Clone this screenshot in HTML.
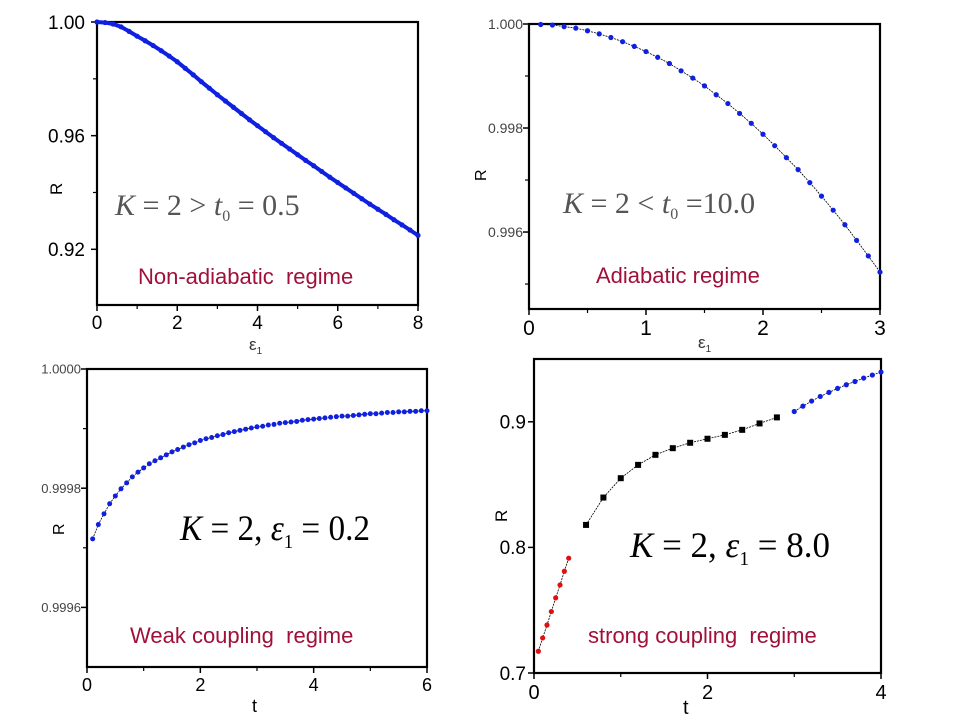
<!DOCTYPE html>
<html><head><meta charset="utf-8"><style>
html,body{margin:0;padding:0;background:#fff;}
svg{display:block;font-family:"Liberation Sans",Arial,sans-serif;}
.lbl{fill:#a0103a;font-size:22px;}
.math{font-family:"Liberation Serif","DejaVu Serif",serif;}
</style></head><body>
<svg id="c" width="960" height="720" viewBox="0 0 960 720" xmlns="http://www.w3.org/2000/svg"></svg>
<script>
// Panel 1 (non-adiabatic): eps1 = 0..8 step 0.2
const p1Step = 0.2;
const p1R = [1.0000,0.9998,0.9993,0.9983,0.9967,0.9950,0.9934,0.9917,0.9899,0.9880,0.9860,0.9837,0.9814,0.9790,0.9767,0.9744,0.9722,0.9700,0.9678,0.9656,0.9635,0.9614,0.9593,0.9573,0.9553,0.9533,0.9513,0.9494,0.9474,0.9454,0.9435,0.9416,0.9397,0.9378,0.9359,0.9341,0.9323,0.9304,0.9286,0.9268,0.9249];
const p1XTicks = ["0","2","4","6","8"];
const p1YTicks = ["0.92","0.96","1.00"];
// Panel 2 (adiabatic): eps1 = 0.1..3.0 step 0.1
const p2Step = 0.1;
const p2R = [0.99999,0.99998,0.99995,0.99992,0.99987,0.99981,0.99974,0.99966,0.99957,0.99947,0.99936,0.99924,0.9991,0.99896,0.99881,0.99864,0.99847,0.99828,0.99809,0.99788,0.99766,0.99743,0.9972,0.99695,0.99669,0.99642,0.99614,0.99584,0.99554,0.99523];
const p2XTicks = ["0","1","2","3"];
const p2YTicks = ["0.996","0.998","1.000"];
// Panel 3 (weak coupling): t = 0.1..6.0 step 0.1
const p3Step = 0.1;
const p3R = [0.999715,0.999739,0.999757,0.999774,0.999787,0.999799,0.999809,0.999819,0.999827,0.999834,0.999841,0.999846,0.999851,0.999856,0.999861,0.999865,0.999869,0.999873,0.999876,0.999880,0.999883,0.999885,0.999888,0.999890,0.999893,0.999895,0.999897,0.999899,0.999901,0.999903,0.999904,0.999906,0.999907,0.999909,0.999910,0.999911,0.999912,0.999914,0.999915,0.999916,0.999917,0.999918,0.999919,0.999920,0.999921,0.999921,0.999922,0.999923,0.999924,0.999925,0.999925,0.999926,0.999927,0.999927,0.999928,0.999928,0.999929,0.999929,0.999930,0.999930];
const p3XTicks = ["0","2","4","6"];
const p3YTicks = ["0.9996","0.9998","1.0000"];
// Panel 4 (strong coupling)
const p4RedT = [0.05,0.1,0.15,0.2,0.25,0.3,0.35,0.4];
const p4RedR = [0.7173,0.7279,0.7382,0.7489,0.7598,0.7701,0.7810,0.7914];
const p4BlackT = [0.6,0.8,1.0,1.2,1.4,1.6,1.8,2.0,2.2,2.4,2.6,2.8];
const p4BlackR = [0.8179,0.8397,0.8551,0.8657,0.8737,0.8790,0.8833,0.8865,0.8896,0.8936,0.8987,0.9035];
const p4BlueT = [3.0,3.1,3.2,3.3,3.4,3.5,3.6,3.7,3.8,3.9,4.0];
const p4BlueR = [0.9082,0.9125,0.9165,0.9202,0.9234,0.9266,0.9295,0.9321,0.9348,0.9372,0.9396];
const p4XTicks = ["0","2","4"];
const p4YTicks = ["0.7","0.8","0.9"];

const NS="http://www.w3.org/2000/svg";
const svg=document.getElementById('c');
function mk(tag,attrs,parent){const e=document.createElementNS(NS,tag);for(const k in attrs)e.setAttribute(k,attrs[k]);(parent||svg).appendChild(e);return e;}
function axes(name,L,R,T,B,x0,x1,y0,y1){
  const g=mk('g',{});
  
  
  return {g,L,R,T,B,sx:v=>L+(v-x0)/(x1-x0)*(R-L),sy:v=>B-(v-y0)/(y1-y0)*(B-T)};
}
function frame(a,xTicks,xMinor,yTicks,yMinor,fs,yfs,ycol,xlabDy,ylabDx){
  const f=mk('rect',{x:a.L,y:a.T,width:a.R-a.L,height:a.B-a.T,fill:'none',stroke:'#000','stroke-width':2.2},a.g);
  
  
  xTicks.forEach(t=>{const x=a.sx(parseFloat(t));
    mk('line',{x1:x,x2:x,y1:a.B,y2:a.B+6,stroke:'#000','stroke-width':1.5},a.g);
    const tx=mk('text',{x:x,y:a.B+xlabDy,'font-size':fs,'text-anchor':'middle'},a.g);tx.textContent=t;
    
    });
  xMinor.forEach(v=>{const x=a.sx(v);mk('line',{x1:x,x2:x,y1:a.B,y2:a.B+4,stroke:'#000','stroke-width':1.2},a.g);});
  yTicks.forEach(t=>{const y=a.sy(parseFloat(t));
    mk('line',{x1:a.L-6,x2:a.L,y1:y,y2:y,stroke:'#000','stroke-width':1.5},a.g);
    const tx=mk('text',{x:a.L-ylabDx,y:y+yfs*0.36,'font-size':yfs,'text-anchor':'end',fill:ycol},a.g);tx.textContent=t;
    
    });
  yMinor.forEach(v=>{const y=a.sy(v);mk('line',{x1:a.L-4,x2:a.L,y1:y,y2:y,stroke:'#000','stroke-width':1.2},a.g);});
}
function series(a,xs,ys,color,r,name,lineW,square){
  const pts=xs.map((x,i)=>a.sx(x)+','+a.sy(ys[i])).join(' ');
  const pl=mk('polyline',{points:pts,fill:'none',stroke:lineW>1.5?color:'#000','stroke-width':lineW,'stroke-dasharray':lineW>1.5?'':'2,1'},a.g);
  
  
  xs.forEach((x,i)=>{
    const m= square? mk('rect',{x:a.sx(x)-r,y:a.sy(ys[i])-r,width:2*r,height:2*r,fill:color},a.g)
                   : mk('circle',{cx:a.sx(x),cy:a.sy(ys[i]),r:r,fill:color},a.g);
    
    
  });
}
function text(x,y,s,attrs,name){const t=mk('text',Object.assign({x,y},attrs));t.innerHTML=s;
  
  return t;}

// Panel 1
const a1=axes('panel-non-adiabatic',97,418,22,305,0,8,0.9004,1.0);
frame(a1,p1XTicks,[1,3,5,7],p1YTicks,[0.94,0.98],19,19,'#000',24,12);
series(a1,p1R.map((_,i)=>i*p1Step),p1R,'#1020e0',2.6,'p1-series',4,false);
text(50,183,'R',{'font-size':17,transform:'rotate(-90 62 183)'},'p1-y-axis-title');
text(249,350,'ε<tspan font-size="10" dy="4">1</tspan>',{'font-size':17,fill:'#333'},'p1-x-axis-title');
text(115,215,'<tspan font-style="italic">K</tspan> = 2 &gt; <tspan font-style="italic">t</tspan><tspan font-size="16" dy="6">0</tspan><tspan dy="-6"> = 0.5</tspan>',{'font-size':30,fill:'#555',class:'math'},'p1-annotation');
text(138,284,'Non-adiabatic&#160;&#160;regime',{class:'lbl'},'p1-regime-label');

// Panel 2
const a2=axes('panel-adiabatic',529,880,24,309,0,3,0.99452,1.0);
frame(a2,p2XTicks,[0.5,1.5,2.5],p2YTicks,[0.995,0.997,0.999],21,14,'#444',26,6);
series(a2,p2R.map((_,i)=>(i+1)*p2Step),p2R,'#1020e0',2.6,'p2-series',0.8,false);
text(480,175,'R',{'font-size':16,transform:'rotate(-90 486 175)'},'p2-y-axis-title');
text(698,348,'ε<tspan font-size="10" dy="4">1</tspan>',{'font-size':17,fill:'#333'},'p2-x-axis-title');
text(563,213,'<tspan font-style="italic">K</tspan> = 2 &lt; <tspan font-style="italic">t</tspan><tspan font-size="16" dy="6">0</tspan><tspan dy="-6"> =10.0</tspan>',{'font-size':30,fill:'#555',class:'math'},'p2-annotation');
text(596,283,'Adiabatic regime',{class:'lbl'},'p2-regime-label');

// Panel 3
const a3=axes('panel-weak-coupling',87,427,369,667,0,6,0.99950,1.0);
frame(a3,p3XTicks,[1,3,5],p3YTicks,[0.9997,0.9999],18,13,'#444',24,6);
series(a3,p3R.map((_,i)=>(i+1)*p3Step),p3R,'#1020e0',2.5,'p3-series',0.8,false);
text(52,523,'R',{'font-size':16,transform:'rotate(-90 64 523)'},'p3-y-axis-title');
text(252,712,'t',{'font-size':18},'p3-x-axis-title');
text(180,540,'<tspan font-style="italic">K</tspan> = 2, <tspan font-style="italic">ε</tspan><tspan font-size="20" dy="8">1</tspan><tspan dy="-8"> = 0.2</tspan>',{'font-size':36,fill:'#000',class:'math',textLength:190,lengthAdjust:'spacingAndGlyphs'},'p3-annotation');
text(130,643,'Weak coupling&#160;&#160;regime',{class:'lbl'},'p3-regime-label');

// Panel 4
const a4=axes('panel-strong-coupling',534,881,359,673,0,4,0.7,0.950);
frame(a4,p4XTicks,[1,3],p4YTicks,[],20,19,'#000',26,8);
series(a4,p4RedT,p4RedR,'#e01010',2.6,'p4-red-series',0.8,false);
series(a4,p4BlackT,p4BlackR,'#000',3,'p4-black-series',0.8,true);
series(a4,p4BlueT,p4BlueR,'#1020e0',2.6,'p4-blue-series',0.8,false);
text(495,510,'R',{'font-size':17,transform:'rotate(-90 507 510)'},'p4-y-axis-title');
text(683,714,'t',{'font-size':20},'p4-x-axis-title');
text(630,557,'<tspan font-style="italic">K</tspan> = 2, <tspan font-style="italic">ε</tspan><tspan font-size="20" dy="8">1</tspan><tspan dy="-8"> = 8.0</tspan>',{'font-size':36,fill:'#000',class:'math',textLength:200,lengthAdjust:'spacingAndGlyphs'},'p4-annotation');
text(588,643,'strong coupling&#160;&#160;regime',{class:'lbl'},'p4-regime-label');
</script>
</body></html>
